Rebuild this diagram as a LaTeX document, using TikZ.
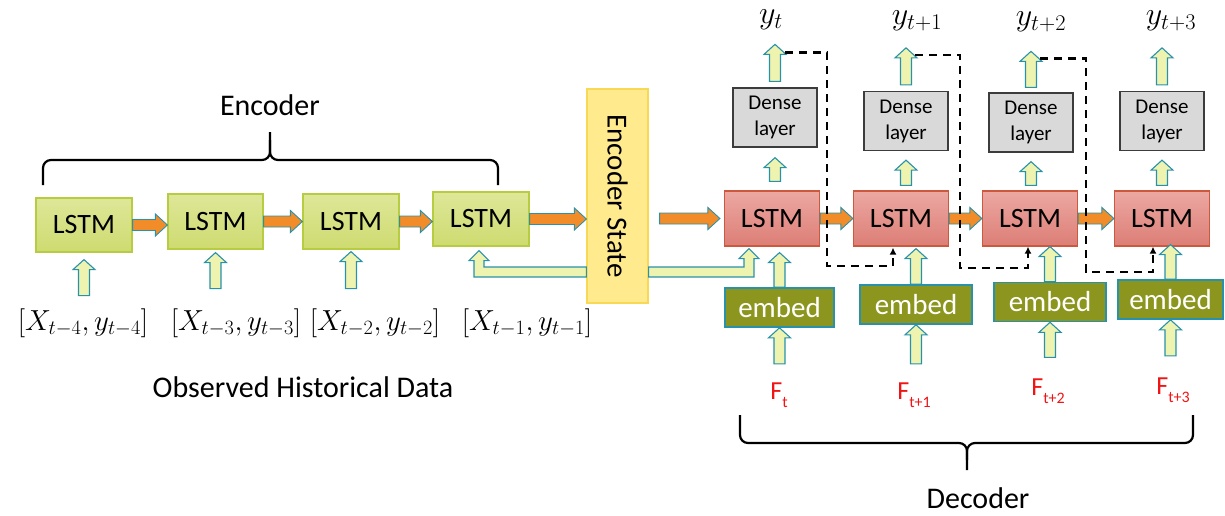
\documentclass[tikz,border=0pt]{standalone}
\usepackage{fix-cm}
\usepackage{fontspec}
\setmainfont{Carlito}
\usetikzlibrary{calc,arrows.meta}
\definecolor{enctop}{RGB}{222,231,152}
\definecolor{encbot}{RGB}{206,219,112}
\definecolor{encline}{RGB}{184,204,66}
\definecolor{dectop}{RGB}{236,168,162}
\definecolor{decbot}{RGB}{220,126,118}
\definecolor{decline}{RGB}{204,88,62}
\definecolor{embfill}{RGB}{140,150,30}
\definecolor{tealline}{RGB}{40,146,172}
\definecolor{densefill}{RGB}{217,217,217}
\definecolor{denseline}{RGB}{60,60,60}
\definecolor{statefill}{RGB}{255,234,142}
\definecolor{stateline}{RGB}{248,216,84}
\definecolor{arrfill}{RGB}{238,243,176}
\definecolor{orangefill}{RGB}{242,140,40}
\definecolor{fred}{RGB}{240,20,20}
\newcommand\blkup[2]{\path[blockup] let \p1=#1, \p2=#2 in
  (\x2-5.5pt,\y1) -- (\x2-5.5pt,\y2-10pt) -- (\x2-11pt,\y2-10pt) -- (\x2,\y2)
  -- (\x2+11pt,\y2-10pt) -- (\x2+5.5pt,\y2-10pt) -- (\x2+5.5pt,\y1) -- cycle;}
\newcommand\blkright[2]{\path[orangearr] let \p1=#1, \p2=#2 in
  (\x1,\y1+5.5pt) -- (\x2-12pt,\y1+5.5pt) -- (\x2-12pt,\y1+11pt) -- (\x2,\y1)
  -- (\x2-12pt,\y1-11pt) -- (\x2-12pt,\y1-5.5pt) -- (\x1,\y1-5.5pt) -- cycle;}
\begin{document}
\begin{tikzpicture}[x=1pt,y=-1pt,
  encbox/.style={draw=encline, line width=1.2pt, top color=enctop, bottom color=encbot,
    inner sep=0pt, font=\fontsize{28}{28}\selectfont},
  decbox/.style={draw=decline, line width=1.2pt, top color=dectop, bottom color=decbot,
    minimum width=95pt, minimum height=55pt, inner sep=0pt, font=\fontsize{28}{28}\selectfont},
  embbox/.style={draw=tealline, line width=1.6pt, fill=embfill, text=white,
    minimum height=39pt, inner sep=0pt, font=\fontsize{29}{29}\selectfont},
  densebox/.style={draw=denseline, line width=1.3pt, fill=densefill, align=center,
    minimum width=84pt, minimum height=59pt, inner sep=0pt, font=\fontsize{21}{26}\selectfont},
  statebox/.style={draw=stateline, line width=1.2pt, fill=statefill,
    minimum width=61pt, minimum height=214pt, inner sep=0pt},
  blockup/.style={draw=tealline, line width=1.1pt, fill=arrfill},
  orangearr/.style={draw=tealline, line width=0.9pt, fill=orangefill},
  fb/.style={draw=black, line width=2.6pt, dash pattern=on 8pt off 6pt, -{Latex[length=7pt,width=7pt]}},
  brace/.style={draw=black, line width=2.2pt, rounded corners=8pt},
  lbl/.style={inner sep=0pt, font=\fontsize{30}{30}\selectfont},
  inlbl/.style={inner sep=0pt, font=\fontsize{29}{29}\selectfont},
  ylbl/.style={inner sep=0pt, font=\fontsize{32}{32}\selectfont},
  flbl/.style={inner sep=0pt, text=fred, font=\fontsize{26}{26}\selectfont}]
\useasboundingbox (0,0) rectangle (1225,515);

% encoder
\node[encbox, minimum width=96pt, minimum height=54pt] (enc1) at (84,225) {LSTM};
\node[encbox, minimum width=95pt, minimum height=55pt] (enc2) at (215.5,221.5) {LSTM};
\node[encbox, minimum width=96pt, minimum height=55pt] (enc3) at (351,221.5) {LSTM};
\node[encbox, minimum width=96pt, minimum height=54pt] (enc4) at (481,219) {LSTM};
\node[statebox] (state) at (617.5,196) {};
\node[rotate=-90, inner sep=0pt, font=\fontsize{29}{29}\selectfont] (statetxt) at (state.center) {Encoder State};

\node[inlbl] (in1) at (83,323) {$[X_{t-4},y_{t-4}]$};
\node[inlbl] (in2) at (236,323) {$[X_{t-3},y_{t-3}]$};
\node[inlbl] (in3) at (375,323) {$[X_{t-2},y_{t-2}]$};
\node[inlbl] (in4) at (527,323) {$[X_{t-1},y_{t-1}]$};

\blkup{($(enc1.south)+(0,43)$)}{($(enc1.south)+(0,7)$)}
\blkup{($(enc2.south)+(0,39)$)}{($(enc2.south)+(0,3)$)}
\blkup{($(enc3.south)+(0,39)$)}{($(enc3.south)+(0,2)$)}

\blkright{(enc1.east)}{(enc2.west)}
\blkright{(enc2.east)}{(enc3.west)}
\blkright{(enc3.east)}{(enc4.west)}
\blkright{(enc4.east)}{(state.west |- enc4.east)}

% decoder
\node[decbox] (dec1) at (772,218.5) {LSTM};
\node[decbox] (dec2) at (901,218.5) {LSTM};
\node[decbox] (dec3) at (1030,218.5) {LSTM};
\node[decbox] (dec4) at (1162,218.5) {LSTM};

\node[embbox, minimum width=109pt] (emb1) at (779.5,307.5) {embed};
\node[embbox, minimum width=112pt] (emb2) at (916,304.5) {embed};
\node[embbox, minimum width=112pt] (emb3) at (1050,302) {embed};
\node[embbox, minimum width=105pt] (emb4) at (1170.5,299.5) {embed};

\node[densebox] (d1) at (775,117.5) {Dense\\layer};
\node[densebox] (d2) at (906,121) {Dense\\layer};
\node[densebox] (d3) at (1031,122.5) {Dense\\layer};
\node[densebox] (d4) at (1162,121) {Dense\\layer};

\node[ylbl] (y1) at (771,20) {$y_t$};
\node[ylbl] (y2) at (917,21) {$y_{t+1}$};
\node[ylbl] (y3) at (1041,22) {$y_{t+2}$};
\node[ylbl] (y4) at (1171,21) {$y_{t+3}$};

\node[flbl] (f1) at (779,395) {F\raisebox{-0.3em}{\fontsize{16}{16}\selectfont t}};
\node[flbl] (f2) at (914,395) {F\raisebox{-0.3em}{\fontsize{16}{16}\selectfont t+1}};
\node[flbl] (f3) at (1048,391) {F\raisebox{-0.3em}{\fontsize{16}{16}\selectfont t+2}};
\node[flbl] (f4) at (1173,390) {F\raisebox{-0.3em}{\fontsize{16}{16}\selectfont t+3}};

% L-shaped state arrows
\path[blockup] let \p1=($(state.west)+(0,76)$), \p2=($(enc4.south)+(-2,4)$) in
  (\x1,\y1+5pt) -- (\x2+5pt,\y1+5pt) -- (\x2+5pt,\y2-10pt) -- (\x2+10pt,\y2-10pt) -- (\x2,\y2)
  -- (\x2-10pt,\y2-10pt) -- (\x2-5pt,\y2-10pt) -- (\x2-5pt,\y1-5pt) -- (\x1,\y1-5pt) -- cycle;
\path[blockup] let \p1=($(state.east)+(0,76)$), \p2=($(dec1.south)+(-23,2)$) in
  (\x1,\y1+5pt) -- (\x2-5pt,\y1+5pt) -- (\x2-5pt,\y2-10pt) -- (\x2-10pt,\y2-10pt) -- (\x2,\y2)
  -- (\x2+10pt,\y2-10pt) -- (\x2+5pt,\y2-10pt) -- (\x2+5pt,\y1-5pt) -- (\x1,\y1-5pt) -- cycle;

\blkright{($(state.east |- dec1.west)+(11,0)$)}{($(dec1.west)+(-4,0)$)}
\blkright{(dec1.east)}{(dec2.west)}
\blkright{(dec2.east)}{(dec3.west)}
\blkright{(dec3.east)}{(dec4.west)}

% F -> embed
\blkup{($(emb1.south)+(0,36)$)}{(emb1.south)}
\blkup{($(emb2.south)+(0,39)$)}{(emb2.south)}
\blkup{($(emb3.south)+(0,35)$)}{(emb3.south)}
\blkup{($(emb4.south)+(0,36)$)}{(emb4.south)}
% embed -> LSTM
\blkup{(emb1.north)}{($(emb1.north |- dec1.south)+(0,6)$)}
\blkup{(emb2.north)}{($(emb2.north |- dec2.south)+(0,2)$)}
\blkup{(emb3.north)}{($(emb3.north |- dec3.south)+(0,0)$)}
\blkup{(emb4.north)}{($(emb4.north |- dec4.south)+(0,-2)$)}
% LSTM -> dense
\blkup{($(d1.south |- dec1.north)+(0,-9)$)}{($(d1.south)+(0,10)$)}
\blkup{($(d2.south |- dec2.north)+(0,-5)$)}{($(d2.south)+(0,9)$)}
\blkup{($(d3.south |- dec3.north)+(0,-5)$)}{($(d3.south)+(0,9)$)}
\blkup{($(d4.south |- dec4.north)+(0,-5)$)}{($(d4.south)+(0,9)$)}
% dense -> y
\blkup{($(d1.north)+(0,-6)$)}{($(d1.north)+(0,-43)$)}
\blkup{($(d2.north)+(0,-6)$)}{($(d2.north)+(0,-43)$)}
\blkup{($(d3.north)+(0,-5)$)}{($(d3.north)+(0,-41)$)}
\blkup{($(d4.north)+(0,-6)$)}{($(d4.north)+(0,-43)$)}

% dashed feedback
\draw[fb] ($(d1.north)+(10,-35)$) -| ($(dec1.east)+(7,47.5)$) -| ($(dec2.south)+(-8,1)$);
\draw[fb] ($(d2.north)+(9,-36)$) -| ($(dec2.east)+(11,49.5)$) -| ($(dec3.south)+(-2,0)$);
\draw[fb] ($(d3.north)+(9,-34)$) -| ($(dec3.east)+(8,53.5)$) -| ($(dec4.south)+(-9,0)$);

% braces and labels
\draw[brace] (43,185) -- (43,160) -- (270,160) -- (270,132);
\draw[brace] (498,185) -- (498,160) -- (270,160) -- (270,140);
\draw[brace] (740,415) -- (740,443) -- (967,443) -- (967,470);
\draw[brace] (1193,415) -- (1193,443) -- (967,443) -- (967,460);

\node[lbl, anchor=base] (enclbl) at (270,115) {Encoder};
\node[lbl, anchor=base] (declbl) at (978,508) {Decoder};
\node[lbl, anchor=base] (obs) at (303,397) {Observed Historical Data};
\end{tikzpicture}
\end{document}
